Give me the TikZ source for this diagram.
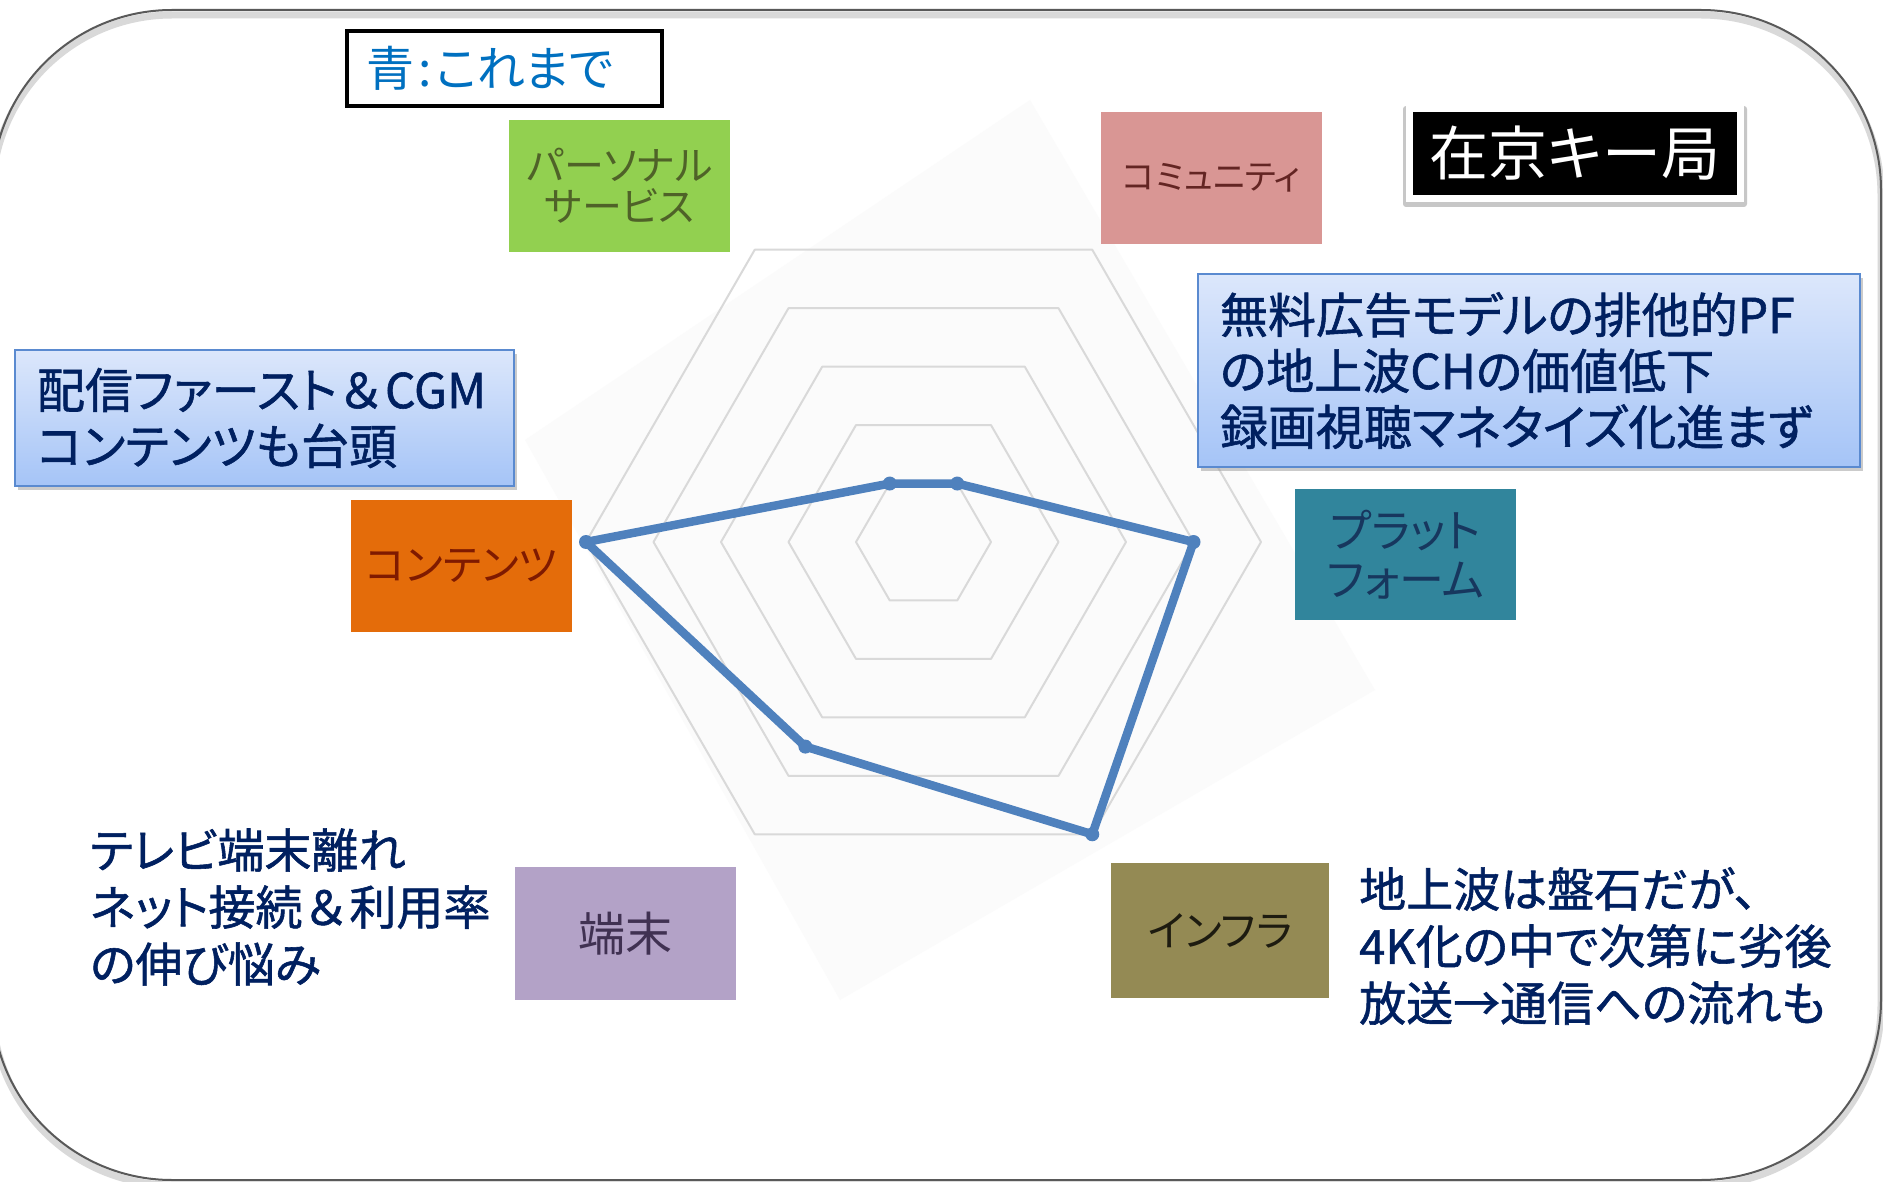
\documentclass[tikz,border=0pt]{standalone}
\usepackage{fontspec}
\newfontfamily\jp[RawFeature=+palt]{Noto Sans CJK JP}
\newfontfamily\jpb[RawFeature=+palt, FakeBold=1.2]{Noto Sans CJK JP}
\newfontfamily\jpbw[FakeBold=1.2]{Noto Sans CJK JP}
\usetikzlibrary{shadows}
\definecolor{cgreen}{HTML}{92D050}\definecolor{tgreen}{HTML}{4F6228}
\definecolor{cpink}{HTML}{D99694}\definecolor{tpink}{HTML}{632523}
\definecolor{cteal}{HTML}{31859C}\definecolor{tteal}{HTML}{17375E}
\definecolor{colive}{HTML}{948A54}\definecolor{tolive}{HTML}{1D1B10}
\definecolor{cpurple}{HTML}{B3A2C7}\definecolor{tpurple}{HTML}{403152}
\definecolor{corange}{HTML}{E46C0A}\definecolor{torange}{HTML}{7F1A00}
\definecolor{btop}{HTML}{DCE7FB}\definecolor{bbot}{HTML}{A5C4F7}
\definecolor{bborder}{HTML}{5A8AD0}
\definecolor{navy}{HTML}{002060}
\definecolor{datablue}{HTML}{4F81BD}
\definecolor{ringgray}{HTML}{D9D9D9}
\definecolor{legblue}{HTML}{0070C0}
\definecolor{faint}{HTML}{FBFBFB}
\begin{document}
\begin{tikzpicture}[x=1pt,y=-1pt,
  axisbox/.style={anchor=north west, inner sep=0pt, align=center},
  bluebox/.style={anchor=north west, top color=btop, bottom color=bbot, draw=bborder, line width=2pt,
    align=left, inner xsep=22pt, inner ysep=0pt, text=navy,
    font={\jpb\fontsize{48}{56}\selectfont},
    drop shadow={shadow xshift=3pt, shadow yshift=-4pt, fill=black!40, opacity=0.5}},
  freetext/.style={anchor=west, align=left, inner sep=0pt, text=navy, font={\jpb\fontsize{47}{57}\selectfont}},
  ringline/.style={draw=ringgray, line width=2pt, line join=round},
  dataline/.style={draw=datablue, line width=8.5pt, line join=round}]
\useasboundingbox (0,0) rectangle (1883,1182);
\fill[white] (0,0) rectangle (1883,1182);
% outer frame
\draw[black!15, line width=7pt, rounded corners=180pt] (-8,15) rectangle (1881,1185);
\draw[black!65, line width=2pt, rounded corners=180pt] (-8,10) rectangle (1881,1180);
% faint chart area
\fill[faint] (1030,100) -- (1375,690) -- (840,1000) -- (525,440) -- cycle;
% radar rings and data points
\begin{scope}[shift={(923.5,542)}]
  \foreach \k in {1,...,5}
    \draw[ringline] (0:{\k*67.5pt}) -- (60:{\k*67.5pt}) -- (120:{\k*67.5pt}) -- (180:{\k*67.5pt}) -- (240:{\k*67.5pt}) -- (300:{\k*67.5pt}) -- cycle;
  \coordinate (dPlat) at (0:270pt);
  \coordinate (dComm) at (60:67.5pt);
  \coordinate (dPers) at (120:67.5pt);
  \coordinate (dCont) at (180:337.5pt);
  \coordinate (dTerm) at (240:236.25pt);
  \coordinate (dInfr) at (300:337.5pt);
\end{scope}
% axis label boxes
\node[axisbox, fill=cgreen, minimum width=221pt, minimum height=132pt, text=tgreen,
  font={\jp\fontsize{40}{41}\selectfont}] (pers) at (509,120) {パーソナル\\サービス};
\node[axisbox, fill=cpink, minimum width=221pt, minimum height=132pt, text=tpink,
  font={\jp\fontsize{34.5}{40}\selectfont}] (comm) at (1101,112) {コミュニティ};
\node[axisbox, fill=cteal, minimum width=221pt, minimum height=131pt, text=tteal,
  font={\jp\fontsize{45}{49}\selectfont}] (plat) at (1295,489) {プラット\\フォーム};
\node[axisbox, fill=colive, minimum width=218pt, minimum height=135pt, text=tolive,
  font={\jp\fontsize{42}{44}\selectfont}] (infr) at (1111,863) {インフラ};
\node[axisbox, fill=cpurple, minimum width=221pt, minimum height=133pt, text=tpurple,
  font={\jp\fontsize{47}{48}\selectfont}] (term) at (515,867) {端末};
\node[axisbox, fill=corange, minimum width=221pt, minimum height=132pt, text=torange,
  font={\jp\fontsize{42}{44}\selectfont}] (cont) at (351,500) {コンテンツ};
% data polygon
\draw[dataline] (dPlat) -- (dComm) -- (dPers) -- (dCont) -- (dTerm) -- (dInfr) -- cycle;
\foreach \p in {dPlat,dComm,dPers,dCont,dTerm,dInfr}
  \fill[datablue] (\p) circle (7pt);
% legend and title
\node[draw=black, line width=4pt, fill=white, minimum width=315pt, minimum height=75pt,
  inner xsep=19pt, text width=277pt, align=left, text=legblue,
  font={\jp\fontsize{48}{50}\selectfont}] (legend) at (504.5,68.5) {青\hspace{5pt}:\hspace{3pt}これまで};
\fill[black!22, rounded corners=3pt] (1403,106) rectangle (1747,207);
\node[fill=black, draw=white, line width=7pt, minimum width=331pt, minimum height=90pt,
  text=white, font={\jp\fontsize{59}{62}\selectfont}] (title) at (1575,153.5) {在京キー局};
% comment boxes
\node[bluebox, minimum height=136pt, text width=455pt] (note1) at (14,349) {配信ファースト{\jpbw ＆}CGM\\コンテンツも台頭};
\node[bluebox, minimum height=193pt, text width=618pt] (note2) at (1197,273) {無料広告モデルの排他的PF\\の地上波CHの価値低下\\録画視聴マネタイズ化進まず};
% free texts
\node[freetext] (note3) at (90,907) {テレビ端末離れ\\ネット接続{\jpbw ＆}利用率\\の伸び悩み};
\node[freetext] (note4) at (1359,946) {地上波は盤石だが、\\4K化の中で次第に劣後\\放送→通信への流れも};
\end{tikzpicture}
\end{document}
